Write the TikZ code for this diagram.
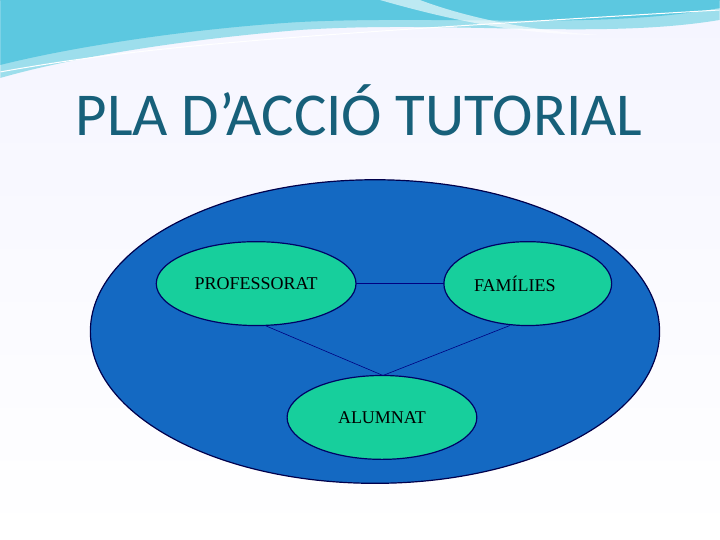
\documentclass[tikz,border=0pt]{standalone}
\usepackage{fontspec}
\setmainfont{Liberation Serif}
\newfontfamily\titlefont{Carlito}
\begin{document}
\begin{tikzpicture}[x=1pt,y=-1pt,
  big/.style={draw=blue!30!black,line width=1.2pt,fill=bigblue},
  small/.style={draw=blue!40!black,line width=1.2pt,fill=teal0},
  link/.style={draw=blue!50!black,line width=0.6pt},
  lbl/.style={font=\fontsize{18}{21}\selectfont}]
\definecolor{bigblue}{HTML}{1469C2}
\definecolor{teal0}{HTML}{17CF9C}
\definecolor{titlec}{HTML}{17607A}
\definecolor{wave}{HTML}{5CC8E0}
\fill[top color=blue!4,bottom color=white] (0,0) rectangle (720,540);
% banner waves
\fill[wave!60] (0,0) -- (720,0) -- (720,20) .. controls (600,40) and (450,20) .. (300,30) .. controls (200,38) and (80,55) .. (0,78) -- cycle;
\fill[wave] (0,0) -- (720,0) -- (720,8) .. controls (600,30) and (450,15) .. (300,22) .. controls (200,28) and (80,45) .. (0,65) -- cycle;
\fill[white,opacity=0.6] (380,0) .. controls (450,20) and (520,35) .. (600,35) .. controls (520,30) and (460,15) .. (420,0) -- cycle;
\draw[white,line width=1pt] (0,72) .. controls (150,45) and (300,35) .. (720,10);
\node[font=\titlefont\fontsize{61}{66}\selectfont,text=titlec] (title) at (359,110) {PLA D’ACCIÓ TUTORIAL};
\path[big] (375,332) ellipse [x radius=285,y radius=152];
\path[small] (256,284) ellipse [x radius=100,y radius=42];
\path[small] (528,284) ellipse [x radius=84,y radius=42];
\path[small] (382,418) ellipse [x radius=95,y radius=42];
\node[lbl] (prof) at (256,284) {PROFESSORAT};
\node[lbl] (fam) at (515,284) {FAMÍLIES};
\node[lbl] (alu) at (382,418) {ALUMNAT};
\coordinate (p1) at (356,284); \coordinate (f1) at (444,284);
\coordinate (p2) at (265,326); \coordinate (f2) at (510,326);
\coordinate (a1) at (383,376);
\draw[link] (p1) -- (f1);
\draw[link] (p2) -- (a1) -- (f2);
\end{tikzpicture}
\end{document}
